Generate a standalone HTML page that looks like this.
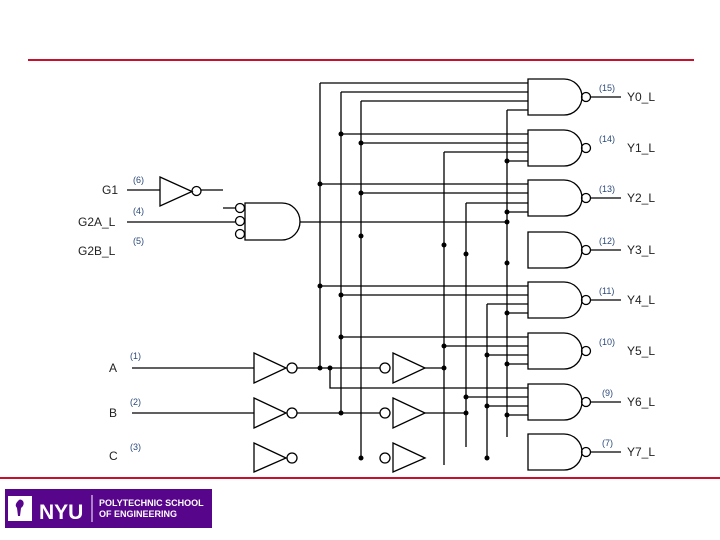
<!DOCTYPE html>
<html><head><style>
html,body{margin:0;padding:0;background:#fff;}
svg{display:block;}
text{font-family:"Liberation Sans",sans-serif;}
.l{font-size:12px;fill:#222;}
.n{font-size:9px;fill:#2c4a7a;}
</style></head><body>
<svg width="720" height="540" viewBox="0 0 720 540" xmlns="http://www.w3.org/2000/svg">
<line x1="28" y1="60" x2="694" y2="60" stroke="#c8102e" stroke-width="2"/>
<line x1="0" y1="478" x2="720" y2="478" stroke="#c8102e" stroke-width="2"/>
<g stroke="#000" stroke-width="1.3" fill="none">
<!-- NAND gates -->
<path d="M528,79H564A18,18 0 0 1 564,115H528Z"/>
<path d="M528,130H564A18,18 0 0 1 564,166H528Z"/>
<path d="M528,180H564A18,18 0 0 1 564,216H528Z"/>
<path d="M528,232H564A18,18 0 0 1 564,268H528Z"/>
<path d="M528,282H564A18,18 0 0 1 564,318H528Z"/>
<path d="M528,333H564A18,18 0 0 1 564,369H528Z"/>
<path d="M528,384H564A18,18 0 0 1 564,420H528Z"/>
<path d="M528,434H564A18,18 0 0 1 564,470H528Z"/>
<circle cx="586" cy="97" r="4.5"/><circle cx="586" cy="148" r="4.5"/><circle cx="586" cy="198" r="4.5"/><circle cx="586" cy="250" r="4.5"/>
<circle cx="586" cy="300" r="4.5"/><circle cx="586" cy="351" r="4.5"/><circle cx="586" cy="402" r="4.5"/><circle cx="586" cy="452" r="4.5"/>
<path d="M591,97H621M591,198H621M591,250H621M591,300H621M591,402H621M591,452H621"/>
<!-- verticals -->
<path d="M320,83V368M341,92V413M361,101V458M444,152V465M466,203V447M487,304V458M507,110V437"/>
<!-- gate inputs -->
<path d="M320,83H528M341,92H528M361,101H528M507,110H528"/>
<path d="M341,134H528M361,143H528M444,152H528M507,161H528"/>
<path d="M320,184H528M361,193H528M466,203H528M507,212H528"/>
<path d="M320,286H528M341,295H528M487,304H528M507,313H528"/>
<path d="M341,337H528M444,346H528M487,355H528M507,364H528"/>
<path d="M330,368V388H528M466,397H528M487,406H528M507,415H528"/>
<!-- enable -->
<path d="M127,190H160M201,190H223M223,208H235M127,222H235M300,222H507"/>
<path d="M160,177L192,191.5L160,206Z"/>
<circle cx="196.5" cy="191" r="4.5"/>
<circle cx="240" cy="208" r="4.5"/><circle cx="240" cy="221" r="4.5"/><circle cx="240" cy="234" r="4.5"/>
<path d="M245,203H282A18,18.5 0 0 1 282,240H245Z"/>
<!-- input buffers -->
<path d="M132,368H254M297,368H380M425,368H444"/>
<path d="M132,413H254M297,413H380M425,413H466"/>
<path d="M254,353L286,368L254,383Z"/><circle cx="292" cy="368" r="5"/>
<path d="M254,398L286,413L254,428Z"/><circle cx="292" cy="413" r="5"/>
<path d="M254,443L286,458L254,472Z"/><circle cx="292" cy="458" r="5"/>
<path d="M393,353L425,368L393,383Z"/><circle cx="385" cy="368" r="5"/>
<path d="M393,398L425,413L393,428Z"/><circle cx="385" cy="413" r="5"/>
<path d="M393,443L425,458L393,472Z"/><circle cx="385" cy="458" r="5"/>
</g>
<g fill="#000">
<circle cx="341" cy="134" r="2.5"/><circle cx="361" cy="143" r="2.5"/><circle cx="507" cy="161" r="2.5"/>
<circle cx="320" cy="184" r="2.5"/><circle cx="361" cy="193" r="2.5"/><circle cx="507" cy="212" r="2.5"/><circle cx="507" cy="222" r="2.5"/>
<circle cx="361" cy="236" r="2.5"/><circle cx="444" cy="245" r="2.5"/><circle cx="466" cy="254" r="2.5"/><circle cx="507" cy="263" r="2.5"/>
<circle cx="320" cy="286" r="2.5"/><circle cx="341" cy="295" r="2.5"/><circle cx="507" cy="313" r="2.5"/>
<circle cx="341" cy="337" r="2.5"/><circle cx="444" cy="346" r="2.5"/><circle cx="487" cy="355" r="2.5"/><circle cx="507" cy="364" r="2.5"/>
<circle cx="466" cy="397" r="2.5"/><circle cx="487" cy="406" r="2.5"/><circle cx="507" cy="415" r="2.5"/>
<circle cx="320" cy="368" r="2.5"/><circle cx="330" cy="368" r="2.5"/><circle cx="444" cy="368" r="2.5"/>
<circle cx="341" cy="413" r="2.5"/><circle cx="466" cy="413" r="2.5"/>
<circle cx="361" cy="458" r="2.5"/><circle cx="487" cy="458" r="2.5"/>
</g>
<text class="l" x="102" y="194">G1</text>
<text class="l" x="78" y="226">G2A_L</text>
<text class="l" x="78" y="255">G2B_L</text>
<text class="l" x="109" y="372">A</text>
<text class="l" x="109" y="417">B</text>
<text class="l" x="109" y="460">C</text>
<text class="n" x="133" y="183">(6)</text><text class="n" x="133" y="214">(4)</text><text class="n" x="133" y="244">(5)</text>
<text class="n" x="130" y="359">(1)</text><text class="n" x="130" y="405">(2)</text><text class="n" x="130" y="450">(3)</text>
<text class="n" x="599" y="91">(15)</text><text class="n" x="599" y="142">(14)</text><text class="n" x="599" y="192">(13)</text><text class="n" x="599" y="244">(12)</text>
<text class="n" x="599" y="294">(11)</text><text class="n" x="599" y="345">(10)</text><text class="n" x="602" y="396">(9)</text><text class="n" x="602" y="446">(7)</text>
<text class="l" x="627" y="101">Y0_L</text><text class="l" x="627" y="152">Y1_L</text><text class="l" x="627" y="202">Y2_L</text><text class="l" x="627" y="254">Y3_L</text>
<text class="l" x="627" y="304">Y4_L</text><text class="l" x="627" y="355">Y5_L</text><text class="l" x="627" y="406">Y6_L</text><text class="l" x="627" y="456">Y7_L</text>
<!-- logo -->
<rect x="5" y="489" width="207" height="39" fill="#57068c"/>
<rect x="8" y="496" width="24" height="25" fill="#fff"/>
<path d="M18,501 q2,-3 5,0 q2,4 -2,7 l-1,8 h-2 l-1,-8 q-3,-3 1,-7z" fill="#57068c"/>
<text x="39" y="519" font-size="21" font-weight="bold" fill="#fff">NYU</text>
<line x1="92" y1="495" x2="92" y2="522" stroke="#fff" stroke-width="1"/>
<text x="99" y="506" font-size="9" font-weight="bold" fill="#fff">POLYTECHNIC SCHOOL</text>
<text x="99" y="517" font-size="9" font-weight="bold" fill="#fff">OF ENGINEERING</text>
</svg>
</body></html>
